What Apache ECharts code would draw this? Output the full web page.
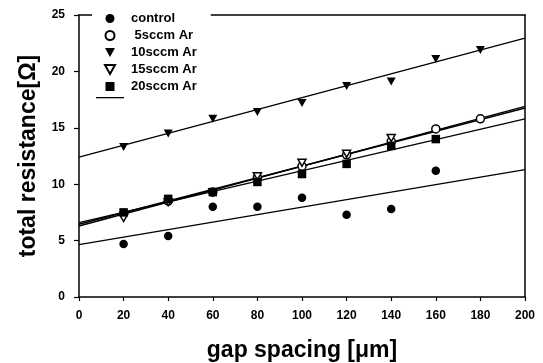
<!DOCTYPE html>
<html>
<head>
<meta charset="utf-8">
<script src="https://cdn.jsdelivr.net/npm/echarts@6/dist/echarts.min.js"></script>
<style>
  html, body { margin: 0; padding: 0; background: #fff; }
  #chart { width: 543px; height: 363px; }
</style>
</head>
<body>
<div id="chart"></div>
<script>
  // gap spacing (um) and total resistance (ohm)
  const controlX = [20, 40, 60, 80, 100, 120, 140, 160]
  const controlY = [4.7, 5.4, 8.0, 8.0, 8.8, 7.3, 7.8, 11.2]
  const sccm5X = [20, 40, 60, 80, 100, 120, 140, 160, 180]
  const sccm5Y = [7.4, 8.5, 9.3, 10.6, 11.6, 12.6, 13.8, 14.9, 15.8]
  const sccm10X = [20, 40, 60, 80, 100, 120, 140, 160, 180]
  const sccm10Y = [13.3, 14.5, 15.8, 16.4, 17.2, 18.7, 19.1, 21.1, 21.9]
  const sccm15X = [20, 40, 60, 80, 100, 120, 140]
  const sccm15Y = [7.0, 8.4, 9.3, 10.7, 11.9, 12.7, 14.1]
  const sccm20X = [20, 40, 60, 80, 100, 120, 140, 160]
  const sccm20Y = [7.5, 8.7, 9.3, 10.2, 10.9, 11.8, 13.4, 14.0]

  // linear fit lines: value at gap 0 and gap 200
  const fitX = [0, 200]
  const controlFit = [4.65, 11.3]
  const sccm5Fit = [6.3, 16.9]
  const sccm10Fit = [12.4, 22.95]
  const sccm15Fit = [6.45, 16.75]
  const sccm20Fit = [6.6, 15.8]

  const xTicks = { min: 0, max: 200, interval: 20 }
  const yTicks = { min: 0, max: 25, interval: 5 }

  const pairs = (xs, ys) => xs.map((x, i) => [x, ys[i]])
  const downTri = 'path://M0,0 L10,0 L5,9 Z'
  const square = 'path://M0,0 L8,0 L8,8 L0,8 Z'
  const lineIcon = 'path://M0,0 L28,0 L28,1.3 L0,1.3 Z'
  const font = 'Liberation Sans, Arial, sans-serif'

  const chart = echarts.init(document.getElementById('chart'))

  const pointSeries = (name, xs, ys, symbol, size, open, z) => ({
    name: name,
    type: 'scatter',
    symbol: symbol,
    symbolSize: size,
    z: z,
    itemStyle: open
      ? { color: '#fff', borderColor: '#000', borderWidth: 1.5, opacity: 1 }
      : { color: '#000', borderColor: '#000', borderWidth: 0, opacity: 1 },
    data: pairs(xs, ys),
  })

  const fitSeries = (ys, w) => ({
    name: 'fit',
    type: 'line',
    symbol: 'none',
    z: 2,
    itemStyle: { color: '#000' },
    lineStyle: { color: '#000', width: w },
    data: pairs(fitX, ys),
  })

  const option = {
    animation: false,
    backgroundColor: '#fff',
    grid: { left: 79, right: 18, top: 15, bottom: 66, outerBoundsMode: 'none' },
    legend: {
      left: 92,
      top: 8,
      orient: 'vertical',
      padding: [4, 14, 4, 4],
      backgroundColor: '#fff',
      z: 10,
      itemWidth: 28,
      itemHeight: 9,
      itemGap: 4,
      symbolKeepAspect: true,
      textStyle: {
        fontFamily: font,
        fontWeight: 'bold',
        fontSize: 13,
        lineHeight: 12,
        color: '#000',
        padding: [0, 0, 0, 2],
      },
      formatter: name => (name === 'fit' ? '' : name),
      data: [
        { name: 'control', icon: 'circle' },
        { name: ' 5sccm Ar', icon: 'circle' },
        { name: '10sccm Ar', icon: downTri },
        { name: '15sccm Ar', icon: downTri },
        { name: '20sccm Ar', icon: square },
        { name: 'fit', icon: lineIcon },
      ],
    },
    xAxis: [
      {
        type: 'value',
        min: xTicks.min,
        max: xTicks.max,
        interval: xTicks.interval,
        name: 'gap spacing [μm]',
        nameLocation: 'middle',
        nameGap: 42,
        nameTextStyle: { fontFamily: font, fontWeight: 'bold', fontSize: 23, color: '#000' },
        axisLine: { show: true, lineStyle: { color: '#000', width: 1.5 } },
        axisTick: { show: true, inside: false, length: 4, lineStyle: { color: '#000', width: 1.2 } },
        axisLabel: { fontFamily: font, fontWeight: 'bold', fontSize: 12, color: '#000', margin: 13 },
        splitLine: { show: false },
      },
      {
        type: 'value',
        position: 'top',
        min: xTicks.min,
        max: xTicks.max,
        axisLine: { show: true, onZero: false, lineStyle: { color: '#000', width: 1.5 } },
        axisTick: { show: false },
        axisLabel: { show: false },
        splitLine: { show: false },
      },
    ],
    yAxis: [
      {
        type: 'value',
        min: yTicks.min,
        max: yTicks.max,
        interval: yTicks.interval,
        name: 'total resistance[Ω]',
        nameLocation: 'middle',
        nameGap: 39,
        nameTextStyle: { fontFamily: font, fontWeight: 'bold', fontSize: 23, color: '#000' },
        axisLine: { show: true, lineStyle: { color: '#000', width: 1.5 } },
        axisTick: { show: true, inside: false, length: 5, lineStyle: { color: '#000', width: 1.2 } },
        axisLabel: { fontFamily: font, fontWeight: 'bold', fontSize: 12, color: '#000', margin: 14 },
        splitLine: { show: false },
      },
      {
        type: 'value',
        position: 'right',
        min: yTicks.min,
        max: yTicks.max,
        axisLine: { show: true, onZero: false, lineStyle: { color: '#000', width: 1.5 } },
        axisTick: { show: false },
        axisLabel: { show: false },
        splitLine: { show: false },
      },
    ],
    series: [
      fitSeries(controlFit, 1.3),
      fitSeries(sccm5Fit, 1.5),
      fitSeries(sccm10Fit, 1.3),
      fitSeries(sccm15Fit, 1.5),
      fitSeries(sccm20Fit, 1.3),
      pointSeries('control', controlX, controlY, 'circle', 8.5, false, 3),
      pointSeries(' 5sccm Ar', sccm5X, sccm5Y, 'circle', 8, true, 3),
      pointSeries('10sccm Ar', sccm10X, sccm10Y, downTri, [9, 8], false, 3),
      pointSeries('15sccm Ar', sccm15X, sccm15Y, downTri, [8, 7], true, 4),
      pointSeries('20sccm Ar', sccm20X, sccm20Y, square, 8.5, false, 5),
    ],
  }

  chart.setOption(option)
</script>
</body>
</html>
